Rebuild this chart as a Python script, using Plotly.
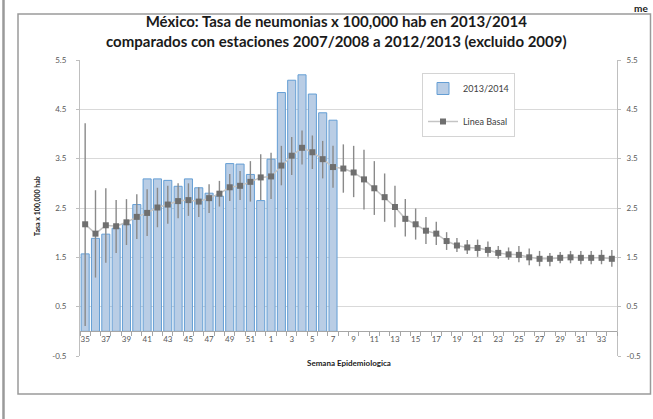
import plotly.graph_objects as go

# ---- data ----
weeks = ["35", "36", "37", "38", "39", "40", "41", "42", "43", "44", "45", "46", "47", "48",
         "49", "50", "51", "52", "1", "2", "3", "4", "5", "6", "7", "8", "9", "10", "11", "12",
         "13", "14", "15", "16", "17", "18", "19", "20", "21", "22", "23", "24", "25", "26",
         "27", "28", "29", "30", "31", "32", "33", "34"]

tasa_2013_2014 = [1.57, 1.885, 1.97, 2.09, 2.17, 2.57, 3.09, 3.09, 3.06, 2.94, 3.09, 2.91,
                  2.80, 2.74, 3.40, 3.39, 3.18, 2.65, 3.49, 4.84, 5.09, 5.20, 4.81, 4.43, 4.28]

linea_basal = [2.17, 1.98, 2.15, 2.13, 2.21, 2.32, 2.40, 2.51, 2.57, 2.64, 2.66, 2.63, 2.70,
               2.79, 2.92, 2.95, 3.03, 3.12, 3.14, 3.36, 3.56, 3.72, 3.63, 3.49, 3.33, 3.30,
               3.22, 3.08, 2.90, 2.72, 2.52, 2.28, 2.17, 2.04, 1.98, 1.83, 1.74, 1.70, 1.69,
               1.65, 1.59, 1.56, 1.55, 1.50, 1.47, 1.47, 1.49, 1.50, 1.49, 1.49, 1.49, 1.47]

basal_sup = [4.22, 2.86, 2.90, 2.66, 2.68, 2.78, 2.88, 2.91, 2.95, 3.00, 3.00, 2.92, 2.98,
             3.05, 3.19, 3.25, 3.45, 3.59, 3.62, 3.76, 3.94, 4.07, 3.97, 3.86, 3.76, 3.79,
             3.76, 3.68, 3.45, 3.20, 2.95, 2.68, 2.49, 2.32, 2.22, 2.01, 1.89, 1.85, 1.86,
             1.82, 1.73, 1.70, 1.73, 1.68, 1.63, 1.59, 1.61, 1.63, 1.63, 1.63, 1.65, 1.65]

basal_inf = [0.11, 1.09, 1.39, 1.59, 1.75, 1.87, 1.93, 2.11, 2.18, 2.29, 2.34, 2.32, 2.40,
             2.53, 2.64, 2.66, 2.63, 2.66, 2.68, 2.96, 3.17, 3.38, 3.29, 3.10, 2.91, 2.81,
             2.72, 2.47, 2.36, 2.22, 2.11, 1.92, 1.86, 1.77, 1.75, 1.65, 1.61, 1.57, 1.51,
             1.51, 1.47, 1.45, 1.40, 1.34, 1.32, 1.32, 1.38, 1.38, 1.36, 1.36, 1.36, 1.31]

y_tick_vals = [-0.5, 0.5, 1.5, 2.5, 3.5, 4.5, 5.5]
y_tick_text = ["-0.5", "0.5", "1.5", "2.5", "3.5", "4.5", "5.5"]

# ---- figure ----
W, H = 653, 419
L, R, T, B = 80, 36, 60, 63
pw, ph = W - L - R, H - T - B

def px(x):
    return (x - L) / pw

def py(y):
    return (H - B - y) / ph

x_labels = [w if i % 2 == 0 else "" for i, w in enumerate(weeks)]
err_plus = [s - b for s, b in zip(basal_sup, linea_basal)]
err_minus = [b - i for b, i in zip(linea_basal, basal_inf)]

FONT = "Lato, 'Open Sans', sans-serif"

fig = go.Figure()
fig.add_trace(go.Bar(
    x=weeks[:len(tasa_2013_2014)], y=tasa_2013_2014, name="2013/2014",
    marker=dict(color="rgb(185,205,229)", line=dict(color="rgb(100,158,212)", width=1)),
    legendgroup="a",
))
fig.add_trace(go.Scatter(
    x=weeks, y=linea_basal, name="Linea Basal", mode="lines+markers",
    line=dict(color="#c4c4c4", width=1.5),
    marker=dict(symbol="square", size=6, color="#6f6f6f"),
    error_y=dict(type="data", symmetric=False, array=err_plus, arrayminus=err_minus,
                 color="#8a8a8a", thickness=1.4, width=0),
    legendgroup="b",
))
fig.add_trace(go.Scatter(x=[weeks[0]], y=[None], yaxis="y2", showlegend=False,
                         hoverinfo="skip"))

axis_font = dict(family=FONT, size=8, color="#595959")
fig.update_layout(
    width=W, height=H,
    margin=dict(l=L, r=R, t=T, b=B, autoexpand=False),
    paper_bgcolor="white", plot_bgcolor="white",
    font=dict(family=FONT),
    bargap=0.22,
    showlegend=True,
    legend=dict(x=px(422), y=py(73), xanchor="left", yanchor="top",
                bordercolor="#d4d4d4", borderwidth=1, bgcolor="white",
                font=dict(family=FONT, size=9, color="#404040"),
                tracegroupgap=14, traceorder="grouped"),
    xaxis=dict(type="category", categoryorder="array", categoryarray=weeks,
               range=[-0.5, len(weeks) - 0.5], autorange=False,
               tickmode="array", tickvals=weeks, ticktext=x_labels, tickangle=0,
               tickson="boundaries", ticks="outside", ticklen=4, tickcolor="#a6a6a6",
               showline=True, linecolor="#a6a6a6", linewidth=1, automargin=False,
               showgrid=False, anchor="free", position=1 / 12, domain=[0, 1],
               tickfont=axis_font),
    yaxis=dict(range=[-0.5, 5.5], tickmode="array", tickvals=y_tick_vals,
               ticktext=y_tick_text, showgrid=True, gridcolor="#d9d9d9", gridwidth=1,
               zeroline=False, showline=True, linecolor="#bfbfbf", linewidth=1,
               ticks="outside", ticklen=3, tickcolor="#bfbfbf", automargin=False,
               ticklabelstandoff=8, tickfont=axis_font),
    yaxis2=dict(range=[-0.5, 5.5], overlaying="y", side="right", tickmode="array",
                tickvals=y_tick_vals, ticktext=y_tick_text, showgrid=False,
                zeroline=False, showline=True, linecolor="#bfbfbf", linewidth=1,
                ticks="outside", ticklen=3, tickcolor="#bfbfbf", automargin=False,
                ticklabelstandoff=4, tickfont=axis_font),
)

# title
fig.add_annotation(text="<b>México: Tasa de neumonias x 100,000 hab en 2013/2014<br>"
                        "comparados con estaciones 2007/2008 a 2012/2013 (excluido 2009)</b>",
                   xref="paper", yref="paper", x=px(336), y=py(31), xanchor="center",
                   yanchor="middle", showarrow=False, align="center",
                   font=dict(family=FONT, size=15, color="#1a1a1a"))
# axis titles
fig.add_annotation(text="<b>Semana Epidemiologica</b>", xref="paper", yref="paper",
                   x=px(349), y=py(363), xanchor="center", yanchor="middle",
                   showarrow=False, font=dict(family=FONT, size=8, color="#1a1a1a"))
fig.add_annotation(text="<b>Tasa x 100,000 hab</b>", xref="paper", yref="paper",
                   x=px(37), y=py(206), xanchor="center", yanchor="middle",
                   textangle=-90, showarrow=False,
                   font=dict(family=FONT, size=7, color="#1a1a1a"))
# small text at top right
fig.add_annotation(text="<b>me</b>", xref="paper", yref="paper", x=px(650), y=py(0),
                   xanchor="right", yanchor="top", showarrow=False,
                   font=dict(family=FONT, size=10, color="#1a1a1a"))

# frames
fig.add_shape(type="rect", xref="paper", yref="paper", x0=px(18), x1=px(650.5),
              y0=py(394), y1=py(14), line=dict(color="#9a9a9a", width=1.5),
              fillcolor="rgba(0,0,0,0)", layer="below")
fig.add_shape(type="line", xref="paper", yref="paper", x0=px(3.5), x1=px(3.5),
              y0=py(419), y1=py(0), line=dict(color="#9a9a9a", width=2.5))

fig.write_html("out.html", config={"displayModeBar": False},
               post_script="document.body.style.margin='0';"
                           "document.body.style.overflow='hidden';")
